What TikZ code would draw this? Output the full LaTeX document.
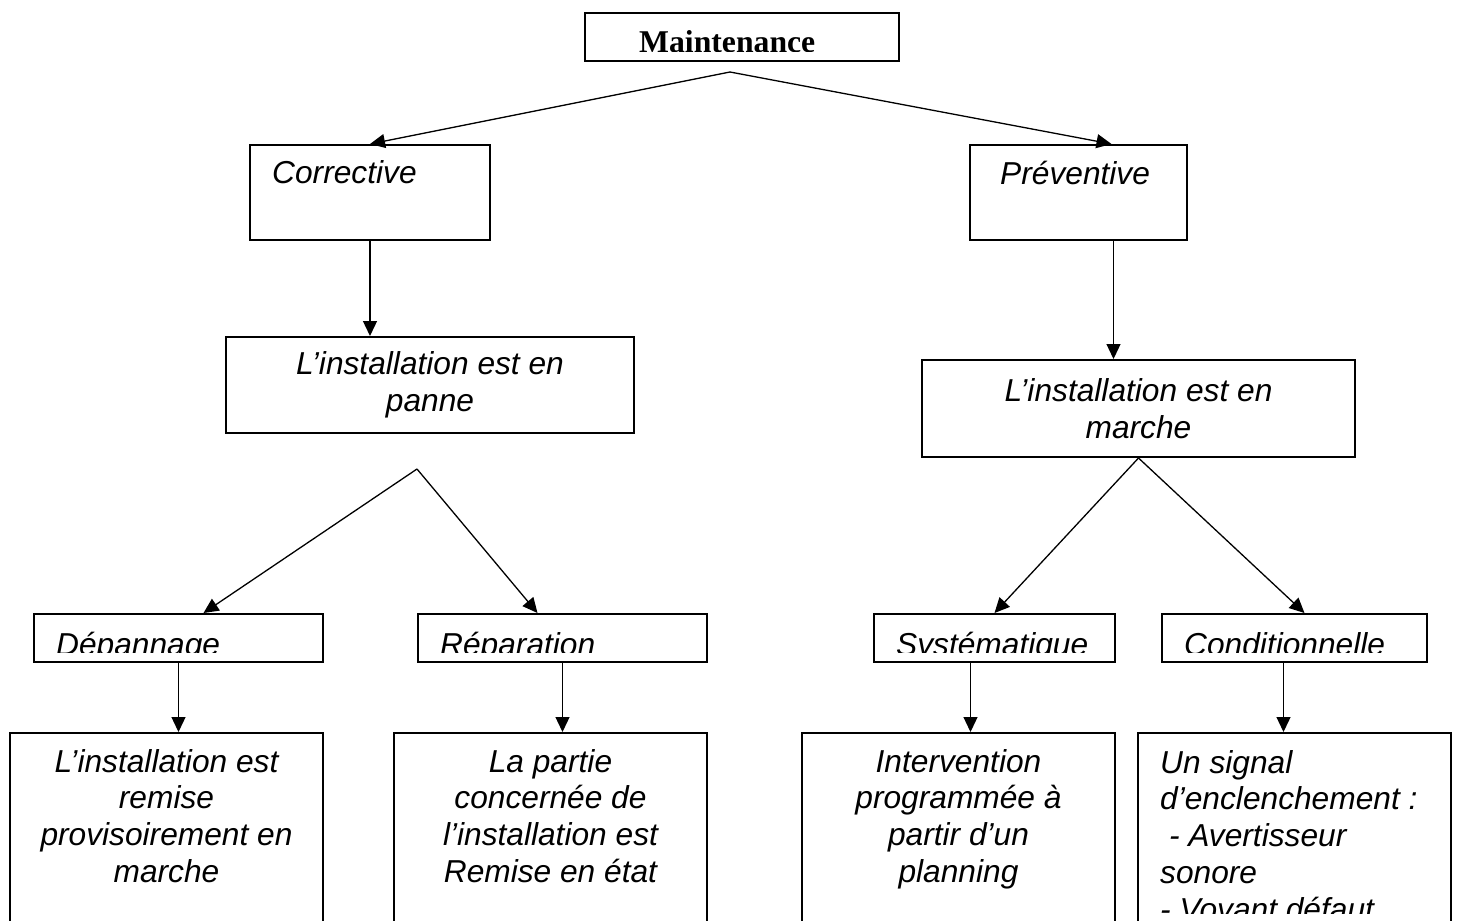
\documentclass[tikz,border=0pt]{standalone}
\usepackage{fontspec}
\usepackage{tikz}
\usetikzlibrary{arrows.meta,calc,positioning}
\newfontfamily\arialfont{Liberation Sans}
\newfontfamily\timesfont{Liberation Serif}
\tikzset{%
	box/.style   = {draw, rectangle, line width=2pt, inner sep=0pt, anchor=north west}, % frame
	tag/.style   = {font=\fontsize{31.7pt}{36.8pt}\selectfont\arialfont\itshape, inner sep=0pt}, % italic text
	title/.style = {font=\fontsize{31.7pt}{36.8pt}\selectfont\timesfont\bfseries, inner sep=0pt},
	arrow/.style = {line width=1.3pt, -{Triangle[length=15pt,width=14pt]}},
}
\begin{document}
\begin{tikzpicture}[x=1pt,y=-1pt]
		\useasboundingbox (0,0) rectangle (1457,921);
		\clip (0,0) rectangle (1457,921);
		% frames
		\node [box, minimum width=314pt, minimum height=48pt] (maint) at (584,12) {};
		\node [box, minimum width=240pt, minimum height=95pt] (corr) at (249,144) {};
		\node [box, minimum width=217pt, minimum height=95pt] (prev) at (969,144) {};
		\node [box, tag, align=center, minimum width=408pt, minimum height=96pt] (panne) at (225,336) {L’installation est en\\panne};
		\node [box, tag, align=center, minimum width=433pt, minimum height=97pt] (marche) at (921,359) {L’installation est en\\marche};
		\node [box, minimum width=289pt, minimum height=48pt] (dep) at (33,613) {};
		\node [box, minimum width=289pt, minimum height=48pt] (rep) at (417,613) {};
		\node [box, minimum width=241pt, minimum height=48pt] (sys) at (873,613) {};
		\node [box, minimum width=265pt, minimum height=48pt] (cond) at (1161,613) {};
		\node [box, minimum width=313pt, minimum height=260pt] (txtL) at (9,732) {};
		\node [box, minimum width=313pt, minimum height=260pt] (txtR) at (393,732) {};
		\node [box, minimum width=313pt, minimum height=260pt] (txtS) at (801,732) {};
		\node [box, minimum width=313pt, minimum height=260pt] (txtC) at (1137,732) {};
		\coordinate (fork1) at (730,72);
		\coordinate (fork2) at (417,469);
		
		% texts (base of a multi-line node = its last line)
		\begin{scope}
			\clip (maint.north west) rectangle ([yshift=11pt]maint.south east);
			\node [title, anchor=base west] (maintxt) at ([xshift=55pt,yshift=-40pt]maint.north west) {Maintenance};
		\end{scope}
		\node [tag, anchor=base west] (corrtxt) at ([xshift=23pt,yshift=-39pt]corr.north west) {Corrective};
		\node [tag, anchor=base west] (prevtxt) at ([xshift=31pt,yshift=-40pt]prev.north west) {Préventive};
		\foreach \nm/\tx in {dep/Dépannage, rep/Réparation, sys/Systématique, cond/Conditionnelle}{
			\begin{scope}
				\clip (\nm.north west) rectangle ([yshift=11pt]\nm.south east);
				\node [tag, anchor=base west] (\nm txt) at ([xshift=23pt,yshift=-42pt]\nm.north west) {\tx};
			\end{scope}
		}
		\node [tag, anchor=base, align=center] (txtLtxt) at ([yshift=-150.4pt]txtL.north) {L’installation est\\remise\\provisoirement en\\marche};
		\node [tag, anchor=base, align=center] (txtRtxt) at ([yshift=-150.4pt]txtR.north) {La partie\\concernée de\\l’installation est\\Remise en état};
		\node [tag, anchor=base, align=center] (txtStxt) at ([yshift=-150.4pt]txtS.north) {Intervention\\programmée à\\partir d’un\\planning};
		\begin{scope}
			\clip (txtC.north west) rectangle (1457,913);
			\node [tag, anchor=base west, align=left] (txtCtxt) at ([xshift=23pt,yshift=-188.2pt]txtC.north west) {Un signal\\d’enclenchement :\\~- Avertisseur\\sonore\\- Voyant défaut};
		\end{scope}
		
		% connectors
		\draw[arrow] (fork1) -- (corr.north);
		\draw[arrow] (fork1) -- ([xshift=33pt]prev.north);
		\draw[arrow] (corr.south) -- (corr.south |- panne.north);
		\draw[arrow] ([xshift=35pt]prev.south) -- ([xshift=35pt]prev.south |- marche.north);
		\draw[arrow] (fork2) -- ([xshift=25pt]dep.north);
		\draw[arrow] (fork2) -- ([xshift=-25pt]rep.north);
		\draw[arrow] (marche.south) -- (sys.north);
		\draw[arrow] (marche.south) -- ([xshift=10pt]cond.north);
		\draw[arrow] (dep.south) -- (dep.south |- txtL.north);
		\draw[arrow] (rep.south) -- (rep.south |- txtR.north);
		\draw[arrow] ([xshift=-24pt]sys.south) -- ([xshift=-24pt]sys.south |- txtS.north);
		\draw[arrow] ([xshift=-11pt]cond.south) -- ([xshift=-11pt]cond.south |- txtC.north);
	\end{tikzpicture}
\end{document}
